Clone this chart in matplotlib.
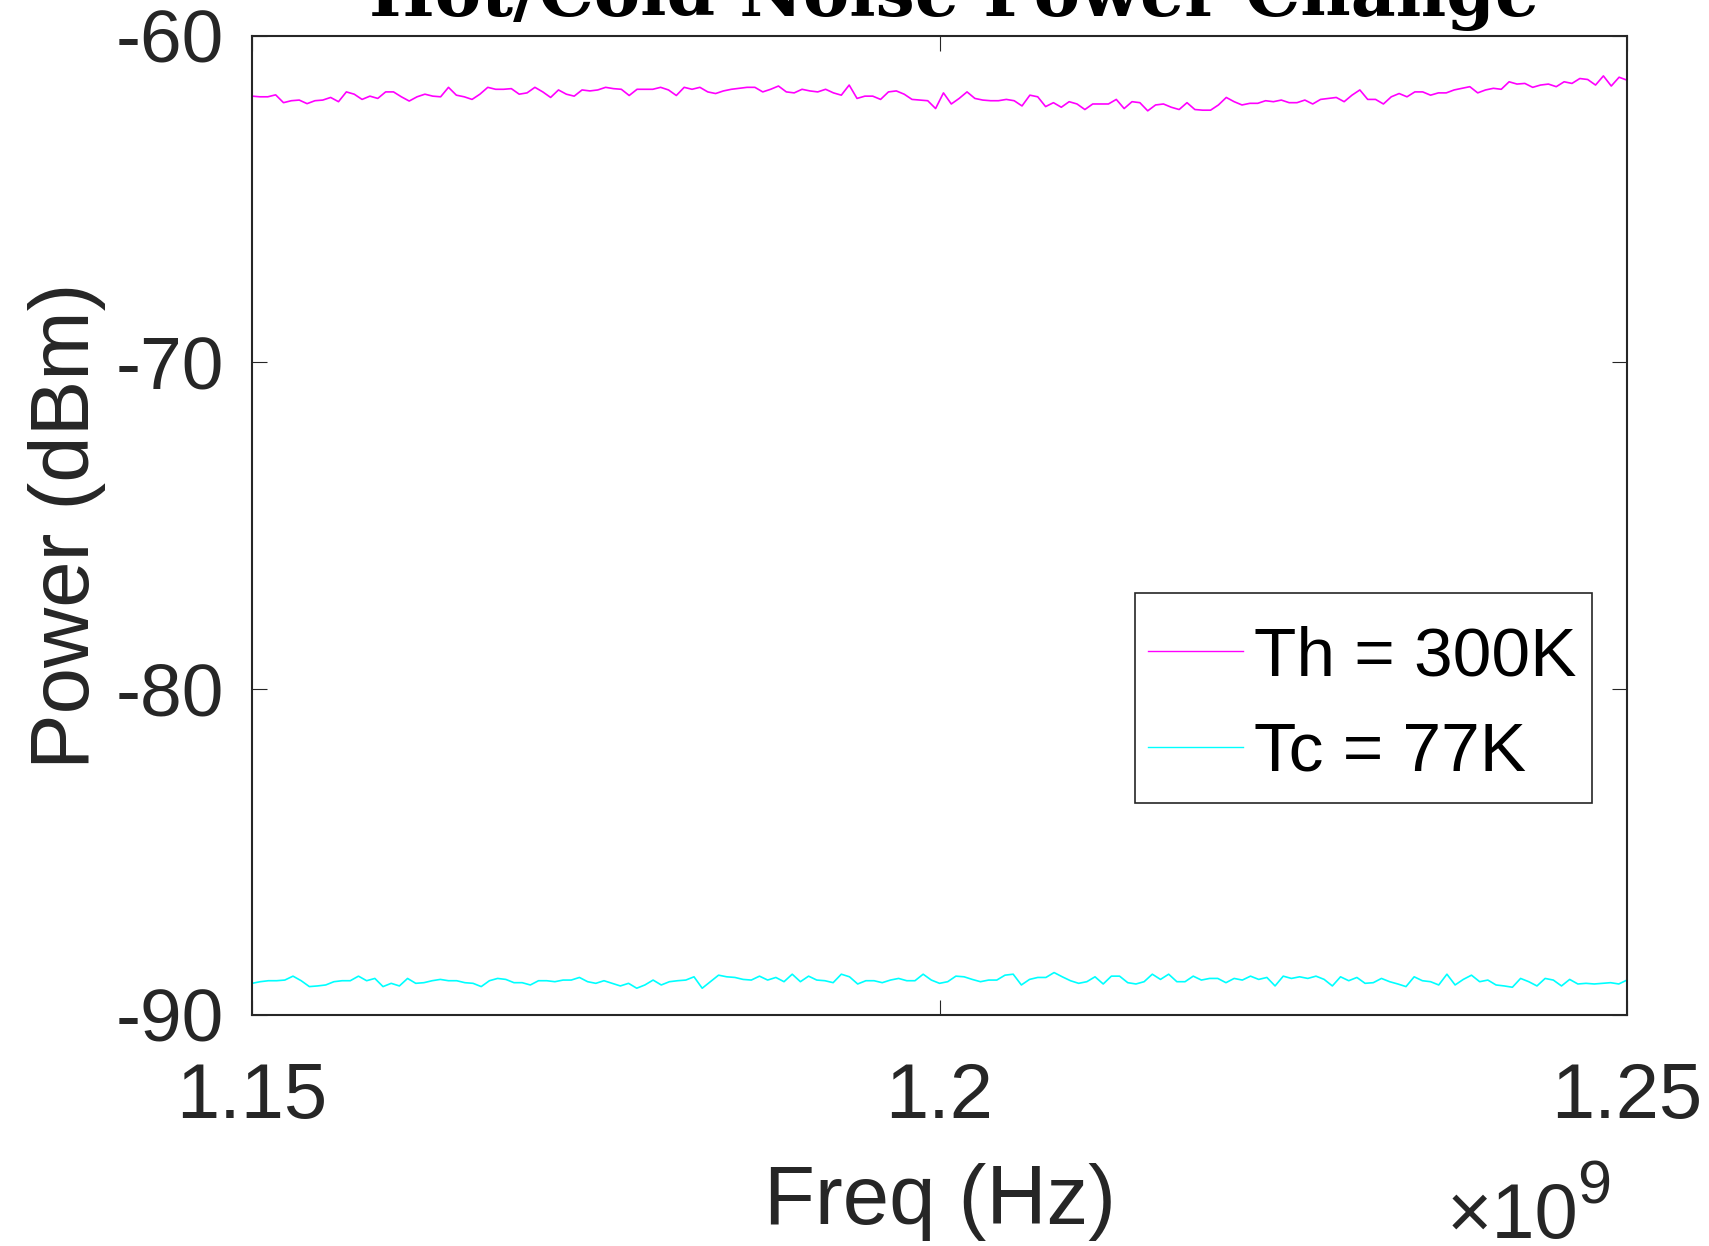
"""Hot/cold noise power measurement plot."""

import matplotlib

matplotlib.use("Agg")
import matplotlib.pyplot as plt
import numpy as np
from matplotlib.patches import Rectangle
from matplotlib.ticker import FixedLocator, FuncFormatter

hot_power = [
    -61.85, -61.87, -61.87, -61.81, -62.05, -61.99, -61.97, -62.08, -61.99, -61.97,
    -61.89, -62.02, -61.72, -61.79, -61.95, -61.85, -61.92, -61.72, -61.72, -61.87,
    -62.00, -61.87, -61.79, -61.85, -61.87, -61.58, -61.82, -61.87, -61.95, -61.79,
    -61.58, -61.64, -61.64, -61.62, -61.79, -61.75, -61.58, -61.72, -61.89, -61.66,
    -61.79, -61.85, -61.66, -61.69, -61.66, -61.58, -61.62, -61.64, -61.83, -61.64,
    -61.64, -61.64, -61.58, -61.66, -61.83, -61.58, -61.64, -61.58, -61.72, -61.77,
    -61.69, -61.64,
    -61.61, -61.58, -61.58, -61.72, -61.64, -61.54, -61.72, -61.75, -61.64, -61.69,
    -61.72, -61.64, -61.75, -61.82, -61.51, -61.92, -61.85, -61.85, -61.95, -61.72,
    -61.69, -61.79, -61.95, -61.97, -61.99, -62.23, -61.75, -62.09, -61.92, -61.72,
    -61.92, -61.97, -61.99, -61.99, -61.95, -61.99, -62.15, -61.82, -61.87, -62.17,
    -62.05, -62.19, -62.02, -62.09, -62.26, -62.09, -62.09, -62.09, -61.95, -62.23,
    -62.02, -62.05, -62.30, -62.12, -62.09, -62.19, -62.26, -62.05, -62.26, -62.28,
    -62.28, -62.12, -61.89, -62.02, -62.12, -62.07, -62.07, -61.99, -62.02, -61.97,
    -62.05, -62.05, -61.97, -62.09, -61.95, -61.92, -61.89, -62.02, -61.82, -61.66,
    -61.95, -61.95, -62.09, -61.87, -61.77, -61.87, -61.72, -61.72, -61.82, -61.75,
    -61.75, -61.66, -61.61, -61.56, -61.75, -61.66, -61.61, -61.64, -61.41, -61.48,
    -61.46, -61.58, -61.51, -61.48, -61.56, -61.41, -61.46, -61.31, -61.34, -61.51,
    -61.23, -61.54, -61.27, -61.36,
]

cold_power = [
    -89.03, -88.98, -88.95, -88.95, -88.93, -88.81, -88.95, -89.13, -89.11, -89.08,
    -88.98, -88.95, -88.95, -88.81, -88.95, -88.88, -89.13, -89.03, -89.11, -88.88,
    -89.03, -89.01, -88.95, -88.91, -88.95, -88.95, -89.01, -89.03, -89.13, -88.95,
    -88.88, -88.91, -89.01, -89.01, -89.08, -88.95, -88.95, -88.98, -88.93, -88.93,
    -88.85, -88.98, -89.03, -88.95, -89.03, -89.11, -89.03, -89.18, -89.08, -88.93,
    -89.08, -88.98, -88.95, -88.93, -88.83, -89.18, -88.98, -88.78, -88.83,
    -88.85, -88.91, -88.93, -88.81, -88.93, -88.85, -88.98, -88.75, -88.98, -88.81,
    -88.93, -88.95, -89.01, -88.75, -88.83, -89.05, -88.95, -88.95, -89.01, -88.93,
    -88.88, -88.95, -88.95, -88.75, -88.93, -89.03, -88.98, -88.81, -88.83, -88.91,
    -88.98, -88.93, -88.93, -88.78, -88.75, -89.08, -88.91, -88.85, -88.85, -88.70,
    -88.83, -88.95, -89.03, -88.98, -88.83, -89.05, -88.81, -88.81, -89.01, -89.05,
    -88.98, -88.75, -88.91, -88.75, -88.98, -88.98, -88.81, -88.93, -88.88,
    -88.88, -89.01, -88.88, -88.93, -88.81, -88.91, -88.85, -89.11, -88.81, -88.88,
    -88.83, -88.88, -88.81, -88.91, -89.11, -88.83, -88.95, -88.85, -89.03, -89.01,
    -88.88, -88.98, -89.05, -89.13, -88.83, -88.95, -88.98, -89.08, -88.75, -89.08,
    -88.91, -88.78, -88.98, -88.93, -89.08, -89.11, -89.15, -88.88, -88.98, -89.11,
    -88.88, -88.93, -89.11, -88.91, -89.05, -89.03, -89.05, -89.03, -89.01, -89.05,
    -88.93,
]

freq_start, freq_stop = 1.15e9, 1.25e9
x_ticks = [1.15e9, 1.2e9, 1.25e9]
x_tick_labels = ["1.15", "1.2", "1.25"]
y_ticks = [-90, -80, -70, -60]
labels = ["Th = 300K", "Tc = 77K"]

plt.rcParams["font.family"] = ["Liberation Sans", "DejaVu Sans"]
plt.rcParams["axes.unicode_minus"] = False

text_color = "#262626"

fig = plt.figure(figsize=(17.09, 12.46), dpi=100)
ax = fig.add_axes([0.1475, 0.1854, 0.8045, 0.7859])

hot_freq = np.linspace(freq_start, freq_stop, len(hot_power))
cold_freq = np.linspace(freq_start, freq_stop, len(cold_power))
ax.plot(hot_freq, hot_power, color="#ff00ff", lw=1.2, label=labels[0])
ax.plot(cold_freq, cold_power, color="#00ffff", lw=1.2, label=labels[1])

ax.set_xlim(freq_start, freq_stop)
ax.set_ylim(-90, -60)
ax.xaxis.set_major_locator(FixedLocator(x_ticks))
ax.xaxis.set_major_formatter(
    FuncFormatter(lambda v, _: x_tick_labels[x_ticks.index(min(x_ticks, key=lambda t: abs(t - v)))])
)
ax.yaxis.set_major_locator(FixedLocator(y_ticks))

ax.tick_params(direction="in", length=10.5, width=0.8, colors=text_color,
               top=True, right=True, labelsize=54)
ax.tick_params(axis="y", pad=20)
ax.tick_params(axis="x", pad=33, labelsize=56)
for spine in ax.spines.values():
    spine.set_linewidth(1.5)
    spine.set_color(text_color)

ax.set_ylabel("Power (dBm)", fontsize=60, color=text_color)
ax.yaxis.set_label_coords(-0.106, 0.5)
ax.set_xlabel("Freq (Hz)", fontsize=60, color=text_color)
ax.xaxis.set_label_coords(0.5, -0.151)

# axis multiplier, MATLAB style
ax.text(0.869, -0.228, "×10", transform=ax.transAxes, fontsize=56,
        color=text_color, ha="left", va="baseline")
ax.text(0.964, -0.193, "9", transform=ax.transAxes, fontsize=44,
        color=text_color, ha="left", va="baseline")

fig.text(0.558, 0.987, "Hot/Cold Noise Power Change", fontsize=50,
         fontweight="bold", family="DejaVu Serif", ha="center", va="baseline")

# legend box drawn separately so its padding can match the original
ax.add_patch(Rectangle((0.642, 0.2165), 0.3325, 0.2145, transform=ax.transAxes,
                       facecolor="white", edgecolor=text_color, lw=1.2, zorder=4))
leg = ax.legend(loc="upper left", bbox_to_anchor=(0.6516, 0.3975), borderaxespad=0,
                fontsize=50, handlelength=1.37, handletextpad=0.15, labelspacing=0.45,
                borderpad=0, frameon=False)
leg.set_zorder(5)
for line in leg.get_lines():
    line.set_linewidth(1.0)
for txt in leg.get_texts():
    txt.set_color("black")

fig.savefig("out.png", dpi=100)
